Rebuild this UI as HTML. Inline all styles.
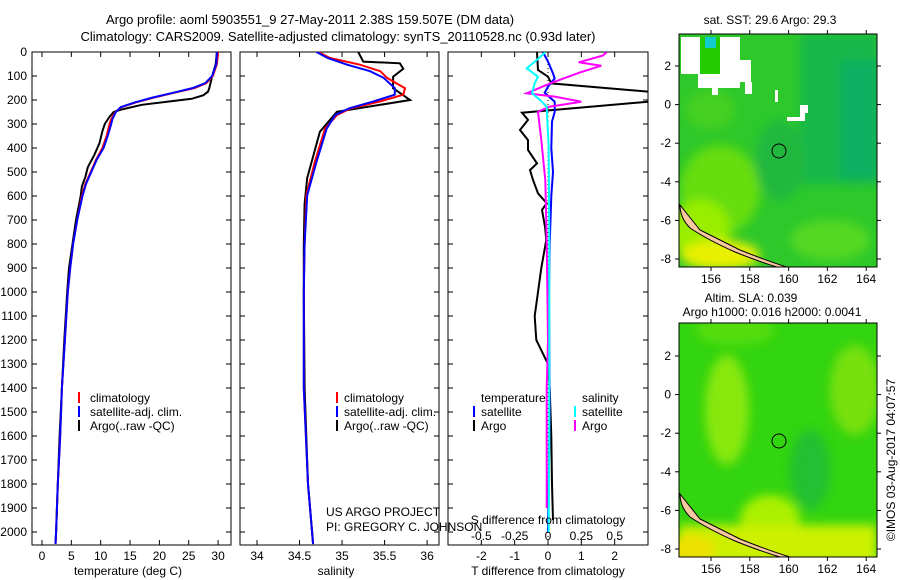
<!DOCTYPE html>
<html><head><meta charset="utf-8">
<style>
html,body{margin:0;padding:0;background:#fff;}
svg{display:block;font-family:"Liberation Sans",sans-serif;}
text{fill:#000;}
</style></head>
<body>
<svg id="chart" width="900" height="580" viewBox="0 0 900 580" xmlns="http://www.w3.org/2000/svg">
<defs>
<clipPath id="c1"><rect x="32" y="52" width="199" height="493"/></clipPath>
<clipPath id="c2"><rect x="240" y="52" width="199" height="493"/></clipPath>
<clipPath id="c3"><rect x="448" y="52" width="200" height="493"/></clipPath>
<clipPath id="cm1"><rect x="679" y="34" width="198" height="233"/></clipPath>
<clipPath id="cm2"><rect x="679" y="323" width="198" height="234"/></clipPath>
<filter id="blur4"><feGaussianBlur stdDeviation="5"/></filter>
</defs>
<text x="310" y="24" font-size="13" text-anchor="middle">Argo profile: aoml 5903551_9 27-May-2011 2.38S 159.507E (DM data)</text>
<text x="338" y="41" font-size="13" text-anchor="middle">Climatology: CARS2009. Satellite-adjusted climatology: synTS_20110528.nc (0.93d later)</text>

<!-- map 1 -->
<g clip-path="url(#cm1)">
<rect x="679" y="34" width="198" height="233" fill="#2ec82a"/>
<g filter="url(#blur4)">
<rect x="800" y="34" width="80" height="150" fill="#17b84a"/>
<rect x="840" y="60" width="40" height="120" fill="#10b060"/>
<ellipse cx="720" cy="190" rx="40" ry="45" fill="#66dd10"/>
<ellipse cx="700" cy="230" rx="30" ry="30" fill="#99ee00"/>
<ellipse cx="720" cy="255" rx="40" ry="15" fill="#e8f000"/>
<ellipse cx="780" cy="160" rx="25" ry="40" fill="#22b840"/>
<ellipse cx="830" cy="240" rx="40" ry="20" fill="#55d820"/>
<ellipse cx="710" cy="110" rx="25" ry="20" fill="#44d020"/>
</g>
<path d="M681 37 H740 V60 H751 V82 H740 V88 H698 V74 H681 Z" fill="#fff"/>
<rect x="700" y="37" width="20" height="37" fill="#22cc00"/>
<rect x="705" y="37" width="11" height="11" fill="#11cccc"/>
<rect x="712" y="87" width="6" height="8" fill="#fff"/>
<rect x="745" y="82" width="7" height="12" fill="#fff"/>
<rect x="775" y="90" width="3" height="12" fill="#fff"/>
<path d="M800 105 H808 V113 H805 V121 H787 V117 H800 Z" fill="#fff"/>
<path d="M680 205 Q688 215 700 230 Q720 240 740 250 Q770 262 790 268 L780 268 Q760 262 735 252 Q708 240 690 228 Q680 218 680 205Z" fill="#f8c8a0" stroke="#000" stroke-width="1"/>
<circle cx="779" cy="151" r="7" fill="none" stroke="#000" stroke-width="1"/>
</g>
<rect x="679" y="34" width="198" height="233" fill="none" stroke="#000"/>
<text x="770" y="24" font-size="12" text-anchor="middle">sat. SST: 29.6 Argo: 29.3</text>

<!-- map 2 -->
<g clip-path="url(#cm2)">
<rect x="679" y="323" width="198" height="234" fill="#33d410"/>
<g filter="url(#blur4)">
<ellipse cx="727" cy="410" rx="22" ry="55" fill="#88e810"/>
<ellipse cx="735" cy="330" rx="40" ry="15" fill="#55dd10"/>
<ellipse cx="855" cy="390" rx="25" ry="45" fill="#77e010"/>
<ellipse cx="810" cy="470" rx="20" ry="40" fill="#22c030"/>
<ellipse cx="770" cy="520" rx="30" ry="25" fill="#aaf000"/>
<rect x="679" y="525" width="198" height="40" fill="#ccf000"/>
<ellipse cx="690" cy="550" rx="25" ry="15" fill="#eee000"/>
</g>
<path d="M680 494 Q688 504 700 519 Q720 529 740 539 Q770 551 790 557 L780 557 Q760 551 735 541 Q708 529 690 517 Q680 507 680 494Z" fill="#f8c8a0" stroke="#000" stroke-width="1"/>
<circle cx="779" cy="441" r="7" fill="none" stroke="#000" stroke-width="1"/>
</g>
<rect x="679" y="323" width="198" height="234" fill="none" stroke="#000"/>
<text x="751" y="302" font-size="12" text-anchor="middle">Altim. SLA: 0.039</text>
<text x="772" y="316" font-size="12" text-anchor="middle">Argo h1000: 0.016 h2000: 0.0041</text>
<text transform="translate(895,460) rotate(-90)" font-size="12" text-anchor="middle">©IMOS 03-Aug-2017 04:07:57</text>

<g id="axes"></g>
<g id="marks"></g>

<text x="128" y="575" font-size="12" text-anchor="middle">temperature (deg C)</text>
<text x="336" y="575" font-size="12" text-anchor="middle">salinity</text>
<text x="548" y="575" font-size="12" text-anchor="middle">T difference from climatology</text>
<text x="548" y="524" font-size="12" text-anchor="middle">S difference from climatology</text>
<text x="326" y="516" font-size="12">US ARGO PROJECT</text>
<text x="326" y="531" font-size="12">PI: GREGORY C. JOHNSON</text>

<g font-size="12">
<rect x="78" y="392" width="2" height="11" fill="#f00"/><text x="90" y="402">climatology</text>
<rect x="78" y="406" width="2" height="11" fill="#00f"/><text x="90" y="416">satellite-adj. clim.</text>
<rect x="78" y="420" width="2" height="11" fill="#000"/><text x="90" y="430">Argo(..raw -QC)</text>
</g>
<g font-size="12">
<rect x="336" y="392" width="2" height="11" fill="#f00"/><text x="344" y="402">climatology</text>
<rect x="336" y="406" width="2" height="11" fill="#00f"/><text x="344" y="416">satellite-adj. clim.</text>
<rect x="336" y="420" width="2" height="11" fill="#000"/><text x="344" y="430">Argo(..raw -QC)</text>
</g>
<g font-size="12">
<text x="481" y="402">temperature</text><text x="582" y="402">salinity</text>
<rect x="473" y="406" width="2" height="11" fill="#00f"/><text x="481" y="416">satellite</text>
<rect x="473" y="420" width="2" height="11" fill="#000"/><text x="481" y="430">Argo</text>
<rect x="574" y="406" width="2" height="11" fill="#0ff"/><text x="582" y="416">satellite</text>
<rect x="574" y="420" width="2" height="11" fill="#f0f"/><text x="582" y="430">Argo</text>
</g>
</svg>
<script>
const depthTicks=[0,100,200,300,400,500,600,700,800,900,1000,1100,1200,1300,1400,1500,1600,1700,1800,1900,2000];
const tempTicks=[0,5,10,15,20,25,30];
const salTicks=[34,34.5,35,35.5,36];
const tdiffTicks=[-2,-1,0,1,2];
const sdiffTicks=[-0.5,-0.25,0,0.25,0.5];
const sdiffTickLabels=["-0.5","-0.25","0","0.25","0.5"];
const lonTicks=[156,158,160,162,164];
const latTicks=[2,0,-2,-4,-6,-8];

// Temperature profiles
const argoTDepth=[0,50,100,150,165,180,195,205,220,240,250,270,300,330,380,430,480,520,560,600,700,800,900,1000,1200,1400,1600,1800,2000,2050];
const argoTemp=[29.8,29.6,29,28.5,28.3,27.5,25.5,22,17,13.5,12.2,11.5,10.7,10.3,9.8,8.9,7.8,7.4,6.8,6.6,5.8,5.2,4.6,4.3,3.8,3.4,3.0,2.7,2.4,2.3];
const climTDepth=[0,50,100,130,150,170,190,210,230,250,280,300,350,400,450,500,550,600,700,800,900,1000,1200,1400,1600,1800,2000,2050];
const climTemp=[30,29.8,29.1,28,26,22.5,19,16,13.5,12.5,11.8,11.5,11,10.3,9.2,8.3,7.4,6.8,6,5.3,4.8,4.4,3.9,3.4,3.1,2.7,2.4,2.3];
const satTemp=[29.8,29.7,29,27.8,25.7,22.3,18.8,15.8,13.4,12.6,12,11.8,11.2,10.5,9.3,8.4,7.5,6.9,6,5.3,4.8,4.4,3.9,3.4,3.1,2.7,2.4,2.3];
// Salinity profiles
const argoSDepth=[0,40,47,70,103,151,200,249,332,525,633,800,1000,1400,1800,2050];
const argoSal=[35.19,35.25,35.68,35.72,35.6,35.6,35.8,34.94,34.74,34.59,34.56,34.55,34.55,34.56,34.6,34.66];
const climSDepth=[0,25,53,80,108,151,178,206,235,263,319,458,597,800,1000,1400,1800,2050];
const climSal=[34.72,34.86,35.21,35.45,35.53,35.74,35.72,35.45,35.1,34.94,34.8,34.68,34.58,34.56,34.55,34.55,34.6,34.66];
const satSal=[34.7,34.83,35.06,35.33,35.49,35.62,35.62,35.37,35.08,34.92,34.82,34.7,34.59,34.56,34.55,34.55,34.6,34.66];
// Differences
const argoTdDepth=[1,75,103,131,165,180,195,207,253,283,325,367,408,464,492,533,589,630,658,728,783,900,1000,1100,1200,1300,1400,1600,1800,1950];
const argoTdiff=[-0.33,-0.3,0,0.1,3,5,5,3,-0.78,-0.6,-0.84,-0.6,-0.6,-0.33,-0.54,-0.45,-0.3,-0.04,-0.18,-0.09,-0.05,-0.2,-0.3,-0.4,-0.35,0,0.05,0.1,0.12,0.15];
const satTdDepth=[1,40,89,110,144,170,207,250,290,400,500,600,800,1000,1500,2000];
const satTdiff=[-0.15,0,0.15,0.2,0,-0.1,0.2,0.2,0.12,0.1,0.15,0.1,0.05,0.03,0.05,0];
const satSdDepth=[1,29,68,103,131,172,200,228,400,800,1200,1600,2000];
const satSdiff=[-0.02,-0.075,-0.16,-0.075,-0.1,-0.12,-0.06,-0.01,0.005,0.01,0.01,0.01,0.005];
const argoSdDepth=[1,15,43,57,85,131,172,186,207,228,249,367,533,783,1200,1400,1900];
const argoSdiff=[0.44,0.41,0.23,0.4,0.24,0.015,-0.16,0.05,0.25,0.01,-0.075,-0.05,-0.02,-0.01,0,-0.01,-0.01];

const NS='http://www.w3.org/2000/svg';
const axes=document.getElementById('axes');
const marks=document.getElementById('marks');
const Y0=52,YB=545;
function yD(d){return Y0+d*0.24;}
const P1={x0:32,x1:231,vmin:-1.70,vmax:32.2};
const P2={x0:240,x1:439,vmin:33.8,vmax:36.14};
const P3={x0:448,x1:648,vmin:-3,vmax:3};
const P3S={x0:448,x1:648,vmin:-0.75,vmax:0.75};
function xS(p,v){return p.x0+(v-p.vmin)/(p.vmax-p.vmin)*(p.x1-p.x0);}
function mk(tag,attrs,parent){const e=document.createElementNS(NS,tag);for(const k in attrs)e.setAttribute(k,attrs[k]);parent.appendChild(e);return e;}

function panel(p,name,ticks,labels,showY){
  const r=mk('rect',{x:p.x0,y:Y0,width:p.x1-p.x0,height:YB-Y0,fill:'none',stroke:'#000','stroke-width':1},axes);
  
  
  depthTicks.forEach(d=>{
    const y=yD(d);
    mk('line',{x1:p.x0,x2:p.x0+5,y1:y,y2:y,stroke:'#000'},axes);
    mk('line',{x1:p.x1-5,x2:p.x1,y1:y,y2:y,stroke:'#000'},axes);
    if(showY){
      const t=mk('text',{x:p.x0-5,y:y+4,'font-size':12,'text-anchor':'end'},axes);
      t.textContent=d;
      
      
    }
  });
  ticks.forEach((v,i)=>{
    const x=xS(p,v);
    mk('line',{x1:x,x2:x,y1:Y0,y2:Y0+5,stroke:'#000'},axes);
    mk('line',{x1:x,x2:x,y1:YB-5,y2:YB,stroke:'#000'},axes);
    const t=mk('text',{x:x,y:560,'font-size':12,'text-anchor':'middle'},axes);
    t.textContent=labels?labels[i]:v;
    
    
  });
}
panel(P1,'temperature-panel',tempTicks,null,true);
panel(P2,'salinity-panel',salTicks,null,false);
panel(P3,'difference-panel',tdiffTicks,null,false);
sdiffTicks.forEach((v,i)=>{
  const t=mk('text',{x:xS(P3S,v),y:540,'font-size':12,'text-anchor':'middle'},axes);
  t.textContent=sdiffTickLabels[i];
  
  
});
// zero dotted line
const zl=mk('line',{x1:xS(P3,0),x2:xS(P3,0),y1:Y0,y2:YB,stroke:'#000','stroke-dasharray':'1,3'},axes);



function series(p,depths,vals,color,clip,name,w){
  const pts=depths.map((d,i)=>xS(p,vals[i]).toFixed(1)+','+yD(d).toFixed(1)).join(' ');
  const e=mk('polyline',{points:pts,fill:'none',stroke:color,'stroke-width':w||2,'clip-path':'url(#'+clip+')'},marks);
  
  
}
series(P1,argoTDepth,argoTemp,'#000','c1','argo-temperature-line');
series(P1,climTDepth,climTemp,'#f00','c1','climatology-temperature-line');
series(P1,climTDepth,satTemp,'#00f','c1','satellite-temperature-line');
series(P2,argoSDepth,argoSal,'#000','c2','argo-salinity-line');
series(P2,climSDepth,climSal,'#f00','c2','climatology-salinity-line');
series(P2,climSDepth,satSal,'#00f','c2','satellite-salinity-line');
series(P3,argoTdDepth,argoTdiff,'#000','c3','argo-t-diff-line');
series(P3,satTdDepth,satTdiff,'#00f','c3','satellite-t-diff-line');
series(P3S,argoSdDepth,argoSdiff,'#f0f','c3','argo-s-diff-line');
series(P3S,satSdDepth,satSdiff,'#0ff','c3','satellite-s-diff-line');

// map axes
function mapAxes(y0,y1,lat2y,name){
  const lx=v=>711+(v-156)*19.4;
  lonTicks.forEach(v=>{
    const x=lx(v);
    mk('line',{x1:x,x2:x,y1:y0-4,y2:y0,stroke:'#000'},axes);
    mk('line',{x1:x,x2:x,y1:y1,y2:y1+4,stroke:'#000'},axes);
    const t=mk('text',{x:x,y:y1+16,'font-size':12,'text-anchor':'middle'},axes);
    t.textContent=v;
    
    
  });
  latTicks.forEach(v=>{
    const y=lat2y+(2-v)*19.3;
    mk('line',{x1:675,x2:679,y1:y,y2:y,stroke:'#000'},axes);
    mk('line',{x1:877,x2:881,y1:y,y2:y,stroke:'#000'},axes);
    const t=mk('text',{x:671,y:y+4,'font-size':12,'text-anchor':'end'},axes);
    t.textContent=v;
    
    
  });
}
mapAxes(34,267,66,'sst-map');
mapAxes(323,557,356,'sla-map');
</script>
</body></html>
